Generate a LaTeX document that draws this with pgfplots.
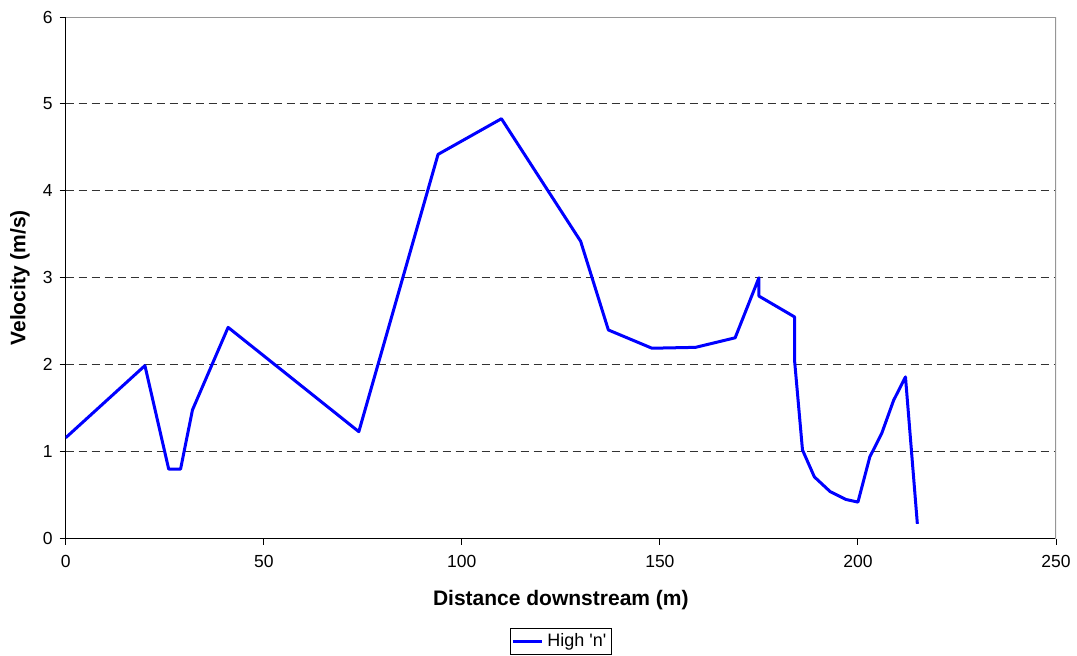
\documentclass[border=0pt]{standalone}
\usepackage{fontspec}
\setmainfont{Liberation Sans}
\usepackage{pgfplots}
\pgfplotsset{compat=1.18}
\definecolor{gridc}{RGB}{50,50,50}
\definecolor{framec}{RGB}{150,150,150}
\definecolor{serblue}{RGB}{0,0,255}
\begin{document}
\begin{tikzpicture}
\begin{axis}[
  at={(0,0)}, anchor=south west,
  scale only axis,
  width=495.15pt, height=260.8pt,
  xmin=0, xmax=250, ymin=0, ymax=6,
  xtick={0,50,...,250}, ytick={0,1,...,6},
  axis x line*=bottom, axis y line*=left,
  axis line style={black, line width=0.6pt, -},
  tick align=outside, major tick length=3pt,
  tick style={black, line width=0.5pt},
  ymajorgrids,
  grid style={gridc, dash pattern=on 4pt off 2.5pt, line width=0.5pt},
  tick label style={font=\fontsize{8.75}{10}\selectfont},
  xticklabel style={yshift=-2pt},
  /pgf/number format/assume math mode=true,
  xlabel={Distance downstream (m)},
  ylabel={Velocity (m/s)},
  label style={font=\bfseries\fontsize{10.5}{12}\selectfont},
  xlabel style={at={(axis description cs:0.5,-0.118)}, anchor=center},
  ylabel style={at={(axis description cs:-0.0462,0.5)}, anchor=center},
  legend style={at={(axis description cs:0.5,-0.197)}, anchor=center, draw=black, line width=0.5pt, font=\fontsize{9}{10}\selectfont, inner sep=0.6pt},
  legend image code/.code={\draw[#1] (0pt,0pt) -- (14.5pt,0pt);},
]
\addplot[serblue, line width=1.5pt, line join=round, mark=none] coordinates {
(0,1.16) (20,1.99) (26,0.80) (29,0.80) (32,1.48) (41,2.43) (74,1.23)
(94,4.42) (110,4.83) (130,3.42) (137,2.40) (148,2.19) (159,2.20) (169,2.31)
(175,3.00) (175,2.79) (184,2.55) (184,2.05) (186,1.02) (189,0.71) (193,0.54)
(197,0.45) (200,0.42) (203,0.94) (206,1.21) (209,1.59) (212,1.86) (215,0.17)
};
\addlegendentry{High \textquotesingle n\textquotesingle}
\draw[framec, line width=0.6pt] (rel axis cs:0,1) -- (rel axis cs:1,1) -- (rel axis cs:1,0);
\end{axis}
\pgfresetboundingbox
\path (-32.85pt,-58.35pt) rectangle (505.65pt,269.3pt);
\end{tikzpicture}
\end{document}
